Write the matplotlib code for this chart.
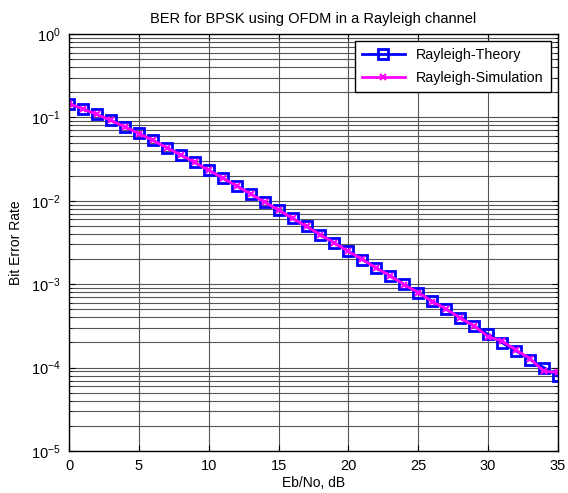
import numpy as np
import matplotlib
matplotlib.use('Agg')
import matplotlib.pyplot as plt
from matplotlib.ticker import LogLocator, MultipleLocator, NullFormatter

plt.rcParams['font.family'] = ['Liberation Sans', 'DejaVu Sans']
plt.rcParams['mathtext.fontset'] = 'custom'
plt.rcParams['mathtext.rm'] = 'Liberation Sans'
plt.rcParams['mathtext.it'] = 'Liberation Sans'
plt.rcParams['axes.unicode_minus'] = False

# Eb/No points, dB
ebno_db = np.arange(0, 36)

# theoretical BER
ber_theory = [0.1464, 0.1267, 0.1085, 0.0919, 0.0771, 0.0642, 0.0530, 0.0435,
              0.0355, 0.0288, 0.0233, 0.0188, 0.0151, 0.0121, 0.00967, 0.00772,
              0.00616, 0.00492, 0.00392, 0.00312, 0.00248, 0.00197, 0.00157,
              0.00125, 0.000992, 0.000789, 0.000627, 0.000498, 0.000396,
              0.000315, 0.000250, 0.000199, 0.000158, 0.000125, 0.0000995,
              0.0000791]

# simulated BER (magenta), drifts a bit at high SNR
ber_sim = [0.1462, 0.1268, 0.1084, 0.0920, 0.0772, 0.0641, 0.0530, 0.0434,
           0.0355, 0.0289, 0.0232, 0.0188, 0.0151, 0.0121, 0.00965, 0.00774,
           0.00615, 0.00493, 0.00391, 0.00313, 0.00247, 0.00198, 0.00156,
           0.00126, 0.000985, 0.000795, 0.000620, 0.000505, 0.000392,
           0.000316, 0.000235, 0.000208, 0.000162, 0.000128, 0.0000900,
           0.0000880]

fig = plt.figure(figsize=(5.68, 4.93), dpi=100)
ax = fig.add_axes([69 / 568, 1 - 451 / 493, (558 - 69) / 568, (451 - 34) / 493])

ax.semilogy(ebno_db, ber_theory, '-s', color='#0000ff', lw=2, ms=6.5,
            mfc='none', mew=2, label='Rayleigh-Theory')
ax.semilogy(ebno_db, ber_sim, '-x', color='#ff00ff', lw=2, ms=4, mew=1.5,
            label='Rayleigh-Simulation')

ax.set_xlim(0, 35)
ax.set_ylim(1e-5, 1)
ax.xaxis.set_major_locator(MultipleLocator(5))
ax.yaxis.set_major_locator(LogLocator(base=10, numticks=10))
ax.yaxis.set_minor_locator(LogLocator(base=10, subs=np.arange(2, 10), numticks=20))
ax.yaxis.set_minor_formatter(NullFormatter())

ax.grid(True, which='major', color='#555555', lw=0.8, ls='-')
ax.grid(True, which='minor', axis='y', color='#555555', lw=0.8, ls='-')
ax.set_axisbelow(True)

ax.tick_params(which='both', direction='in', top=True, right=True, labelsize=10.5)
ax.tick_params(which='major', length=4, pad=6)
ax.tick_params(which='minor', length=2)
for s in ax.spines.values():
    s.set_linewidth(1.0)

ax.set_title('BER for BPSK using OFDM in a Rayleigh channel', fontsize=10.5, pad=8)
ax.set_xlabel('Eb/No, dB', fontsize=10, labelpad=2)
ax.set_ylabel('Bit Error Rate', fontsize=10, labelpad=6)

leg = ax.legend(loc='upper right', fontsize=10.3, fancybox=False, framealpha=1,
                edgecolor='k', borderaxespad=0.5, handlelength=3,
                borderpad=0.5, labelspacing=0.6)
leg.get_frame().set_linewidth(1.0)

fig.savefig('out.png', dpi=100)
